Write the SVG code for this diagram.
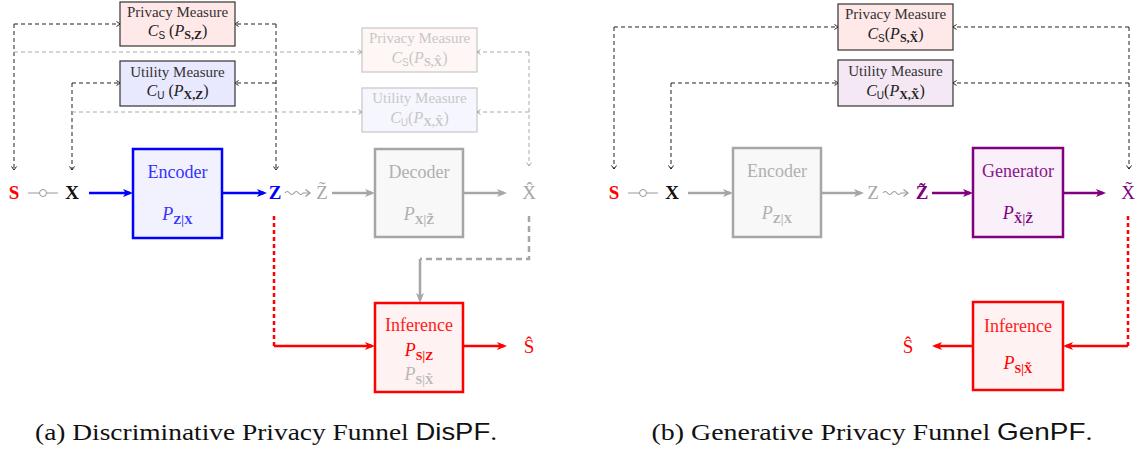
<svg xmlns="http://www.w3.org/2000/svg" width="1147" height="450" viewBox="0 0 1147 450">
  <style>
    text { font-family: "Liberation Serif", "DejaVu Serif", serif; text-anchor: middle; }
    .box-title { font-size: 15px; fill: #333; }
    .math { font-size: 16px; fill: #222; }
    .it { font-style: italic; }
    .sf { font-family: "Liberation Sans", "DejaVu Sans", sans-serif; font-size: 10px; }
    .bsub { font-weight: bold; font-size: 12px; }
    .var { font-size: 19px; font-weight: bold; }
    .varr { font-size: 19px; }
    .blk { font-size: 18px; }
    .cap { font-size: 24px; fill: #111; }
    .capsf { font-family: "Liberation Sans", "DejaVu Sans", sans-serif; }
    .faded { fill: #999; }
    .dash-k { fill: none; stroke: #222; stroke-width: 1; stroke-dasharray: 4 3; }
    .dash-g { fill: none; stroke: #aaa; stroke-width: 1; stroke-dasharray: 4 3; }
  </style>
  <defs>
    <marker id="tipBlue" viewBox="0 0 10 8" refX="7" refY="4" markerWidth="10" markerHeight="8" markerUnits="userSpaceOnUse" orient="auto">
      <path d="M0,0 L10,4 L0,8 L2.5,4 Z" fill="#0000ff"/>
    </marker>
    <marker id="tipGray" viewBox="0 0 10 8" refX="7" refY="4" markerWidth="10" markerHeight="8" markerUnits="userSpaceOnUse" orient="auto">
      <path d="M0,0 L10,4 L0,8 L2.5,4 Z" fill="#a6a6a6"/>
    </marker>
    <marker id="tipRed" viewBox="0 0 10 8" refX="7" refY="4" markerWidth="10" markerHeight="8" markerUnits="userSpaceOnUse" orient="auto">
      <path d="M0,0 L10,4 L0,8 L2.5,4 Z" fill="#ff0000"/>
    </marker>
    <marker id="tipPurple" viewBox="0 0 10 8" refX="7" refY="4" markerWidth="10" markerHeight="8" markerUnits="userSpaceOnUse" orient="auto">
      <path d="M0,0 L10,4 L0,8 L2.5,4 Z" fill="#800080"/>
    </marker>
    <marker id="chevK" viewBox="0 0 5 6" refX="4" refY="3" markerWidth="5" markerHeight="6" markerUnits="userSpaceOnUse" orient="auto">
      <path d="M0.5,0.5 L4,3 L0.5,5.5" fill="none" stroke="#222" stroke-width="1"/>
    </marker>
    <marker id="chevG" viewBox="0 0 5 6" refX="4" refY="3" markerWidth="5" markerHeight="6" markerUnits="userSpaceOnUse" orient="auto">
      <path d="M0.5,0.5 L4,3 L0.5,5.5" fill="none" stroke="#aaa" stroke-width="1"/>
    </marker>
    <marker id="chevSq" viewBox="0 0 6 8" refX="5" refY="4" markerWidth="6" markerHeight="8" markerUnits="userSpaceOnUse" orient="auto">
      <path d="M0.5,0.5 L5,4 L0.5,7.5" fill="none" stroke="#999" stroke-width="1.2"/>
    </marker>
  </defs>

  <rect width="1147" height="450" fill="#ffffff"/>

  <!-- ================= connectors ================= -->
  <g id="connectors">
    <!-- (a) measure feedback loops -->
    <path class="dash-k" d="M14,24 H120" marker-end="url(#chevK)"/>
    <path class="dash-k" d="M14,24 V170" marker-end="url(#chevK)"/>
    <path class="dash-k" d="M72,83 H120" marker-end="url(#chevK)"/>
    <path class="dash-k" d="M72,83 V170" marker-end="url(#chevK)"/>
    <path class="dash-k" d="M276,24 V170" marker-end="url(#chevK)"/>
    <path class="dash-k" d="M276,24 H235" marker-end="url(#chevK)"/>
    <path class="dash-k" d="M276,83 H235" marker-end="url(#chevK)"/>

    <path class="dash-g" d="M14,52 H362" marker-end="url(#chevG)"/>
    <path class="dash-g" d="M72,112 H362" marker-end="url(#chevG)"/>
    <path class="dash-g" d="M529,52 H477" marker-end="url(#chevG)"/>
    <path class="dash-g" d="M529,112 H477" marker-end="url(#chevG)"/>
    <path class="dash-g" d="M529,52 V166" marker-end="url(#chevG)"/>

    <!-- S -o- X link -->
    <g stroke="#999" stroke-width="1" fill="none">
      <path d="M28,193 H39.5 M46.5,193 H58"/>
      <circle cx="43" cy="193" r="3.5" fill="#fff"/>
    </g>

    <path d="M89,193 H130" stroke="#0000ff" stroke-width="2.5" fill="none" marker-end="url(#tipBlue)"/>
    <path d="M222,193 H264" stroke="#0000ff" stroke-width="2.5" fill="none" marker-end="url(#tipBlue)"/>
    <path d="M285,193 q2.25,-3 4.5,0 t4.5,0 t4.5,0 t4.5,0 H310" stroke="#999" stroke-width="1.2" fill="none" marker-end="url(#chevSq)"/>
    <path d="M332,193 H372" stroke="#a6a6a6" stroke-width="2.5" fill="none" marker-end="url(#tipGray)"/>
    <path d="M463,193 H504" stroke="#a6a6a6" stroke-width="2.5" fill="none" marker-end="url(#tipGray)"/>

    <path d="M529,216 V259 H420" stroke="#a6a6a6" stroke-width="2.5" stroke-dasharray="6 4" fill="none"/>
    <path d="M420,259 V300" stroke="#a6a6a6" stroke-width="2.5" fill="none" marker-end="url(#tipGray)"/>

    <path d="M274,216 V346" stroke="#ff0000" stroke-width="2.5" stroke-dasharray="4 3" fill="none"/>
    <path d="M274,346 H372" stroke="#ff0000" stroke-width="2.5" fill="none" marker-end="url(#tipRed)"/>
    <path d="M463,346 H504" stroke="#ff0000" stroke-width="2.5" fill="none" marker-end="url(#tipRed)"/>

    <!-- (b) -->
    <path class="dash-k" d="M614,27 H838" marker-end="url(#chevK)"/>
    <path class="dash-k" d="M614,27 V169" marker-end="url(#chevK)"/>
    <path class="dash-k" d="M671,83 H838" marker-end="url(#chevK)"/>
    <path class="dash-k" d="M671,83 V169" marker-end="url(#chevK)"/>
    <path class="dash-k" d="M1129,27 V169" marker-end="url(#chevK)"/>
    <path class="dash-k" d="M1129,27 H953" marker-end="url(#chevK)"/>
    <path class="dash-k" d="M1129,83 H953" marker-end="url(#chevK)"/>

    <g stroke="#999" stroke-width="1" fill="none">
      <path d="M628,193 H639.5 M646.5,193 H658"/>
      <circle cx="643" cy="193" r="3.5" fill="#fff"/>
    </g>

    <path d="M688,193 H730" stroke="#a6a6a6" stroke-width="2.5" fill="none" marker-end="url(#tipGray)"/>
    <path d="M821,193 H861" stroke="#a6a6a6" stroke-width="2.5" fill="none" marker-end="url(#tipGray)"/>
    <path d="M883,193 q2.25,-3 4.5,0 t4.5,0 t4.5,0 t4.5,0 H908" stroke="#999" stroke-width="1.2" fill="none" marker-end="url(#chevSq)"/>
    <path d="M932,193 H970" stroke="#800080" stroke-width="2.5" fill="none" marker-end="url(#tipPurple)"/>
    <path d="M1063,193 H1103" stroke="#800080" stroke-width="2.5" fill="none" marker-end="url(#tipPurple)"/>

    <path d="M1128,216 V346" stroke="#ff0000" stroke-width="2.5" stroke-dasharray="4 3" fill="none"/>
    <path d="M1128,346 H1066" stroke="#ff0000" stroke-width="2.5" fill="none" marker-end="url(#tipRed)"/>
    <path d="M973,346 H935" stroke="#ff0000" stroke-width="2.5" fill="none" marker-end="url(#tipRed)"/>
  </g>

  <!-- ================= (a) Discriminative ================= -->
  <g id="a-privacy">
    <rect x="120" y="2" width="115" height="44" fill="#ffe8e8" stroke="#333" stroke-width="1.2"/>
    <text class="box-title" x="177.5" y="17">Privacy Measure</text>
    <text class="math" x="177.5" y="36"><tspan class="it">C</tspan><tspan class="sf" dy="3">S</tspan><tspan dy="-3"> (</tspan><tspan class="it">P</tspan><tspan class="bsub" dy="3">S,Z</tspan><tspan dy="-3">)</tspan></text>
  </g>
  <g id="a-utility">
    <rect x="120" y="61" width="115" height="45" fill="#e8e8ff" stroke="#333" stroke-width="1.2"/>
    <text class="box-title" x="177.5" y="77">Utility Measure</text>
    <text class="math" x="177.5" y="96"><tspan class="it">C</tspan><tspan class="sf" dy="3">U</tspan><tspan dy="-3"> (</tspan><tspan class="it">P</tspan><tspan class="bsub" dy="3">X,Z</tspan><tspan dy="-3">)</tspan></text>
  </g>
  <g id="a-privacy-rec" opacity="0.55">
    <rect x="362" y="28" width="115" height="44" fill="#fff0f0" stroke="#999" stroke-width="1.2"/>
    <text class="box-title faded" x="419.5" y="43">Privacy Measure</text>
    <text class="math faded" x="419.5" y="63"><tspan class="it">C</tspan><tspan class="sf" dy="3">S</tspan><tspan dy="-3">(</tspan><tspan class="it">P</tspan><tspan class="bsub" dy="3">S,X̂</tspan><tspan dy="-3">)</tspan></text>
  </g>
  <g id="a-utility-rec" opacity="0.55">
    <rect x="362" y="88" width="115" height="44" fill="#f0f0ff" stroke="#999" stroke-width="1.2"/>
    <text class="box-title faded" x="419.5" y="103">Utility Measure</text>
    <text class="math faded" x="419.5" y="123"><tspan class="it">C</tspan><tspan class="sf" dy="3">U</tspan><tspan dy="-3">(</tspan><tspan class="it">P</tspan><tspan class="bsub" dy="3">X,X̂</tspan><tspan dy="-3">)</tspan></text>
  </g>

  <g id="a-vars">
    <text class="var" x="14" y="199" fill="#ff0000">S</text>
    <text class="var" x="72" y="199" fill="#111">X</text>
    <text class="var" x="275" y="199" fill="#0000ff">Z</text>
    <text class="varr" x="322" y="199" fill="#a6a6a6">Z̃</text>
    <text class="varr" x="529" y="199" fill="#a6a6a6">X̂</text>
    <text class="varr" x="529" y="353" fill="#ff0000">Ŝ</text>
  </g>

  <g id="a-encoder">
    <rect x="133" y="149" width="89" height="89" fill="#f2f2ff" stroke="#0000ff" stroke-width="2.5"/>
    <text class="blk" x="177.5" y="178" fill="#3333ff">Encoder</text>
    <text class="blk" x="177.5" y="220" fill="#3333ff"><tspan class="it">P</tspan><tspan class="bsub" font-size="13" dy="4">Z|X</tspan></text>
  </g>
  <g id="a-decoder">
    <rect x="375" y="149" width="88" height="88" fill="#f8f8f8" stroke="#a6a6a6" stroke-width="2.5"/>
    <text class="blk" x="419" y="178" fill="#b0b0b0">Decoder</text>
    <text class="blk" x="419" y="220" fill="#b0b0b0"><tspan class="it">P</tspan><tspan class="bsub" font-size="13" dy="4">X|Z̃</tspan></text>
  </g>
  <g id="a-inference">
    <rect x="375" y="303" width="88" height="89" fill="#fff2f2" stroke="#ff0000" stroke-width="2.5"/>
    <text class="blk" x="419" y="331" fill="#ff2020">Inference</text>
    <text class="blk" x="419" y="356" fill="#ff0000"><tspan class="it">P</tspan><tspan class="bsub" font-size="13" dy="4">S|Z</tspan></text>
    <text class="blk" x="419" y="380" fill="#b8b8b8"><tspan class="it">P</tspan><tspan class="bsub" font-size="13" dy="4">S|X̂</tspan></text>
  </g>

  <!-- ================= (b) Generative ================= -->
  <g id="b-privacy">
    <rect x="838" y="4" width="115" height="46" fill="#ffe8e8" stroke="#333" stroke-width="1.2"/>
    <text class="box-title" x="895.5" y="19">Privacy Measure</text>
    <text class="math" x="895.5" y="39"><tspan class="it">C</tspan><tspan class="sf" dy="3">S</tspan><tspan dy="-3">(</tspan><tspan class="it">P</tspan><tspan class="bsub" dy="3">S,X̃</tspan><tspan dy="-3">)</tspan></text>
  </g>
  <g id="b-utility">
    <rect x="838" y="60" width="115" height="46" fill="#f3e8f3" stroke="#333" stroke-width="1.2"/>
    <text class="box-title" x="895.5" y="76">Utility Measure</text>
    <text class="math" x="895.5" y="96"><tspan class="it">C</tspan><tspan class="sf" dy="3">U</tspan><tspan dy="-3">(</tspan><tspan class="it">P</tspan><tspan class="bsub" dy="3">X,X̃</tspan><tspan dy="-3">)</tspan></text>
  </g>

  <g id="b-vars">
    <text class="var" x="614" y="199" fill="#ff0000">S</text>
    <text class="var" x="672" y="199" fill="#111">X</text>
    <text class="varr" x="873" y="199" fill="#a6a6a6">Z</text>
    <text class="var" x="922" y="199" fill="#800080">Z̃</text>
    <text class="varr" x="1128" y="199" fill="#800080">X̃</text>
    <text class="varr" x="908" y="353" fill="#ff0000">Ŝ</text>
  </g>

  <g id="b-encoder">
    <rect x="733" y="148" width="88" height="89" fill="#f8f8f8" stroke="#a6a6a6" stroke-width="2.5"/>
    <text class="blk" x="777" y="177" fill="#b0b0b0">Encoder</text>
    <text class="blk" x="777" y="219" fill="#b0b0b0"><tspan class="it">P</tspan><tspan class="bsub" font-size="13" dy="4">Z|X</tspan></text>
  </g>
  <g id="b-generator">
    <rect x="973" y="148" width="90" height="89" fill="#f9f0f9" stroke="#800080" stroke-width="2.5"/>
    <text class="blk" x="1018" y="177" fill="#8a158a">Generator</text>
    <text class="blk" x="1018" y="219" fill="#800080"><tspan class="it">P</tspan><tspan class="bsub" font-size="13" dy="4">X̃|Z̃</tspan></text>
  </g>
  <g id="b-inference">
    <rect x="973" y="302" width="90" height="88" fill="#fff2f2" stroke="#ff0000" stroke-width="2.5"/>
    <text class="blk" x="1018" y="332" fill="#ff2020">Inference</text>
    <text class="blk" x="1018" y="369" fill="#ff0000"><tspan class="it">P</tspan><tspan class="bsub" font-size="13" dy="4">S|X̃</tspan></text>
  </g>

  <!-- captions -->
  <g id="captions">
    <text class="cap" x="266" y="440" textLength="462" lengthAdjust="spacingAndGlyphs">(a) Discriminative Privacy Funnel <tspan class="capsf">DisPF</tspan>.</text>
    <text class="cap" x="872" y="440" textLength="441" lengthAdjust="spacingAndGlyphs">(b) Generative Privacy Funnel <tspan class="capsf">GenPF</tspan>.</text>
  </g>
</svg>
